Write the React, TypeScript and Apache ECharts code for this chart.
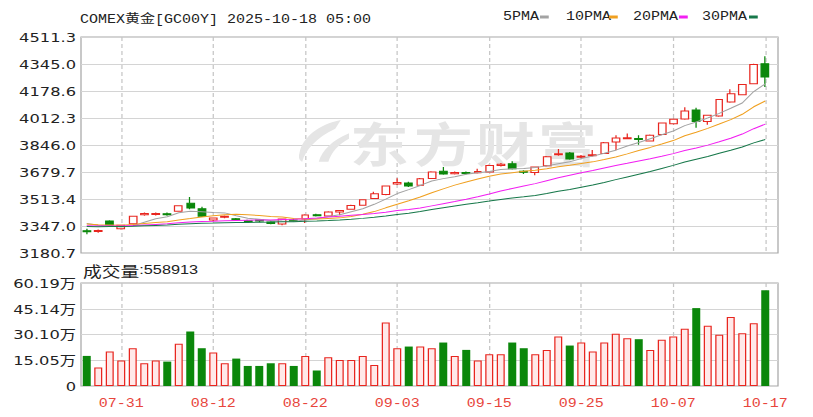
import { useEffect, useRef } from 'react';
import * as echarts from 'echarts';

// ---------- data ----------
const TITLE = 'COMEX黄金[GC00Y] 2025-10-18 05:00';
const LATEST_VOLUME = 558913;

const DATES = [
  '07-28', '07-29', '07-30', '07-31', '08-01', '08-04', '08-05', '08-06', '08-07', '08-08',
  '08-11', '08-12', '08-13', '08-14', '08-15', '08-18', '08-19', '08-20', '08-21', '08-22',
  '08-25', '08-26', '08-27', '08-28', '08-29', '09-01', '09-02', '09-03', '09-04', '09-05',
  '09-08', '09-09', '09-10', '09-11', '09-12', '09-15', '09-16', '09-17', '09-18', '09-19',
  '09-22', '09-23', '09-24', '09-25', '09-26', '09-29', '09-30', '10-01', '10-02', '10-03',
  '10-06', '10-07', '10-08', '10-09', '10-10', '10-13', '10-14', '10-15', '10-16', '10-17',
];
const LABEL_DATES = ['07-31', '08-12', '08-22', '09-03', '09-15', '09-25', '10-07', '10-17'];

const OPEN = [
  3318, 3313, 3378, 3330, 3361, 3417, 3418, 3422, 3438, 3487,
  3454, 3384, 3401, 3392, 3380, 3384, 3372, 3359, 3384, 3390,
  3416, 3409, 3434, 3450, 3475, 3516, 3541, 3606, 3612, 3598,
  3639, 3684, 3669, 3676, 3675, 3680, 3720, 3731, 3685, 3676,
  3718, 3786, 3797, 3770, 3780, 3794, 3864, 3884, 3886, 3871,
  3911, 3977, 4006, 4062, 3990, 4025, 4111, 4156, 4224, 4347,
];
const CLOSE = [
  3312, 3319, 3351, 3351, 3407, 3424, 3424, 3416, 3471, 3458,
  3407, 3396, 3407, 3386, 3375, 3378, 3362, 3390, 3378, 3415,
  3410, 3434, 3443, 3473, 3508, 3545, 3593, 3615, 3594, 3638,
  3679, 3668, 3676, 3670, 3682, 3720, 3727, 3699, 3678, 3710,
  3773, 3792, 3760, 3776, 3786, 3860, 3889, 3890, 3880, 3906,
  3981, 4004, 4056, 3990, 4029, 4126, 4162, 4218, 4342, 4265,
];
const LOW = [
  3296, 3305, 3346, 3326, 3358, 3410, 3412, 3410, 3435, 3450,
  3403, 3378, 3395, 3380, 3370, 3370, 3358, 3352, 3372, 3366,
  3405, 3405, 3414, 3447, 3472, 3513, 3537, 3600, 3588, 3595,
  3636, 3662, 3664, 3664, 3670, 3676, 3714, 3695, 3668, 3660,
  3714, 3780, 3755, 3765, 3775, 3790, 3813, 3881, 3848, 3867,
  3906, 3973, 4002, 3953, 3971, 4020, 4106, 4152, 4220, 4203,
];
const HIGH = [
  3330, 3325, 3383, 3355, 3410, 3430, 3430, 3430, 3475, 3526,
  3466, 3400, 3412, 3396, 3385, 3388, 3376, 3393, 3390, 3419,
  3422, 3438, 3445, 3478, 3512, 3558, 3597, 3641, 3620, 3642,
  3684, 3711, 3683, 3682, 3700, 3724, 3735, 3746, 3690, 3714,
  3778, 3821, 3803, 3784, 3815, 3864, 3906, 3917, 3906, 3910,
  3985, 4010, 4078, 4075, 4033, 4130, 4189, 4222, 4346, 4393,
];

const MA5 = [
  3362.4, 3351.2, 3346.4, 3341.6, 3348.0, 3370.4, 3391.4, 3404.4, 3428.4, 3438.6,
  3435.2, 3429.6, 3427.8, 3410.8, 3394.2, 3388.4, 3381.6, 3378.2, 3376.6, 3384.6,
  3391.0, 3405.4, 3416.0, 3435.0, 3453.6, 3480.6, 3512.4, 3546.8, 3571.0, 3597.0,
  3623.8, 3638.8, 3651.0, 3666.2, 3675.0, 3683.2, 3695.0, 3699.6, 3701.2, 3706.8,
  3717.4, 3730.4, 3742.6, 3762.2, 3777.4, 3794.8, 3814.2, 3840.2, 3861.0, 3885.0,
  3909.2, 3932.2, 3965.4, 3987.4, 4012.0, 4041.0, 4072.6, 4105.0, 4175.4, 4222.6,
];
const MA10 = [
  3359.7, 3355.1, 3353.7, 3352.3, 3356.5, 3362.4, 3368.3, 3373.4, 3384.0, 3393.3,
  3402.8, 3410.5, 3416.1, 3419.6, 3416.4, 3411.8, 3405.6, 3403.0, 3393.7, 3389.4,
  3389.7, 3393.5, 3397.1, 3405.8, 3419.1, 3435.8, 3458.9, 3481.4, 3503.0, 3525.3,
  3552.2, 3575.6, 3598.9, 3618.6, 3636.0, 3653.5, 3666.9, 3675.3, 3683.7, 3690.9,
  3700.3, 3712.7, 3721.1, 3731.7, 3742.1, 3756.1, 3772.3, 3791.4, 3811.6, 3831.2,
  3852.0, 3873.2, 3902.8, 3924.2, 3948.5, 3975.1, 4002.4, 4035.2, 4081.4, 4117.3,
];
const MA20 = [
  3348.1, 3346.6, 3346.6, 3346.7, 3349.5, 3353.2, 3356.9, 3360.2, 3366.3, 3371.7,
  3374.5, 3376.8, 3379.7, 3381.5, 3382.7, 3384.1, 3384.7, 3386.7, 3388.1, 3391.4,
  3396.3, 3402.0, 3406.6, 3412.7, 3417.8, 3423.8, 3432.3, 3442.2, 3448.4, 3457.4,
  3471.0, 3484.6, 3498.0, 3512.2, 3527.6, 3544.7, 3562.9, 3578.4, 3593.4, 3608.1,
  3626.3, 3644.2, 3660.0, 3675.2, 3689.1, 3704.8, 3719.6, 3733.4, 3747.7, 3761.1,
  3776.2, 3792.9, 3811.9, 3828.0, 3845.3, 3865.6, 3887.4, 3913.3, 3946.5, 3974.3,
];
const MA30 = [
  3343.9, 3343.0, 3343.2, 3343.4, 3345.5, 3348.1, 3350.8, 3353.1, 3357.3, 3361.1,
  3363.2, 3364.9, 3366.9, 3368.3, 3369.3, 3370.4, 3371.0, 3372.5, 3373.6, 3375.9,
  3378.1, 3381.0, 3384.3, 3388.6, 3394.0, 3400.7, 3408.9, 3417.9, 3426.2, 3436.0,
  3448.2, 3459.9, 3470.7, 3481.3, 3490.5, 3500.4, 3510.5, 3519.9, 3526.8, 3535.2,
  3547.4, 3560.6, 3572.4, 3585.4, 3599.1, 3615.1, 3632.7, 3649.4, 3666.1, 3682.5,
  3701.5, 3720.5, 3740.9, 3758.2, 3775.5, 3794.9, 3813.9, 3834.0, 3858.9, 3879.8,
];

const VOLUME = [
  175800, 107500, 201200, 148500, 220800, 132900, 148500, 142600, 246200, 318500,
  220800, 195400, 132900, 160200, 117200, 117200, 132900, 132900, 117200, 175800,
  89900, 168000, 152400, 152400, 175800, 123000, 371200, 220800, 230500, 230500,
  220800, 254000, 175800, 211000, 148500, 185600, 185600, 254000, 220800, 185600,
  211000, 289200, 236400, 254000, 201200, 254000, 304800, 279400, 273500, 211000,
  269600, 289200, 334100, 455200, 351700, 298900, 402500, 308700, 367300, 558913,
];
// 1 = red (up) bar, 0 = green (down) bar, as drawn in the volume panel
const VOLUME_UP = [
  0, 1, 1, 1, 1, 1, 1, 0, 1, 0,
  0, 1, 1, 0, 0, 0, 0, 1, 0, 1,
  0, 1, 1, 1, 1, 1, 1, 1, 0, 1,
  1, 0, 1, 0, 1, 1, 1, 0, 0, 1,
  1, 1, 0, 1, 1, 1, 1, 1, 0, 1,
  1, 1, 1, 0, 1, 1, 1, 1, 1, 0,
];

const PRICE_TICKS = ['3180.7', '3347.0', '3513.4', '3679.7', '3846.0', '4012.3', '4178.6', '4345.0', '4511.3'];
const PRICE_MIN = 3180.7;
const PRICE_MAX = 4511.3;
const VOLUME_TICKS = ['0', '15.05万', '30.10万', '45.14万', '60.19万'];
const VOLUME_MAX = 601900;

// ---------- styling / layout ----------
const W = 650; // drawn at 650px and stretched horizontally to 813px like the reference
const H = 417;
const S = 813 / W;
const px = (x: number) => x / S;

const RED = '#e8261f';
const GREEN = '#0b870b';
const MONO = "'Liberation Mono', 'DejaVu Sans Mono', 'Noto Sans CJK SC', monospace";

const MA_SERIES = [
  { name: '5PMA', data: MA5, color: '#a3a3a3' },
  { name: '10PMA', data: MA10, color: '#f0a020' },
  { name: '20PMA', data: MA20, color: '#f21ff2' },
  { name: '30PMA', data: MA30, color: '#17784a' },
];
const LEGEND_TEXT_X = [503, 566, 633, 702];
const LEGEND_DASH_X = [540, 609, 679, 749];

const LOGO_PATH =
  'M34 0 C18 4 6 16 4 30 C3 34 4 37 6 38 C8 28 16 16 30 8 Z M40 12 C28 18 20 28 18 38 L25 38 C27 30 32 22 40 17 Z';

let logoRegistered = false;

export default function App() {
  const ref = useRef<HTMLDivElement>(null);

  useEffect(() => {
    if (!ref.current) return;
    if (!logoRegistered) {
      echarts.graphic.registerShape('dfcfLogo', echarts.graphic.extendPath(LOGO_PATH, {}));
      logoRegistered = true;
    }
    const chart = echarts.init(ref.current, null, { renderer: 'svg', width: W, height: H });

    const step = (PRICE_MAX - PRICE_MIN) / (PRICE_TICKS.length - 1);
    const toU = (p: number) => (p - PRICE_MIN) / step;
    const volStep = VOLUME_MAX / (VOLUME_TICKS.length - 1);
    const isLabel = (idx: number) => LABEL_DATES.includes(DATES[idx]);

    const GL = px(81);
    const GW_DATA = px(690);
    const GW_BG = px(697);

    const vSplit = {
      show: true,
      interval: isLabel,
      alignWithLabel: true,
      lineStyle: { color: '#c6c6c6', type: [4, 3], width: 1 },
    };

    const graphic: any[] = [
      {
        type: 'text',
        x: px(80),
        y: 19.5,
        style: { text: TITLE, fontSize: 12, fontFamily: MONO, fill: '#222', verticalAlign: 'middle' },
      },
      {
        type: 'text',
        x: px(83),
        y: 270,
        style: {
          text: `{a|成交量}{b|:${LATEST_VOLUME}}`,
          verticalAlign: 'middle',
          rich: {
            a: { fontSize: 15, fontFamily: "'Noto Sans CJK SC'", fill: '#222' },
            b: { fontSize: 13, fontFamily: "'Liberation Sans', Arial", fill: '#222' },
          },
        },
      },
      {
        type: 'dfcfLogo',
        x: px(294),
        y: 120,
        scaleX: 1.1,
        scaleY: 1.1,
        z: 1,
        silent: true,
        style: { fill: '#e5e5e5' },
      },
    ];
    ['东', '方', '财', '富'].forEach((ch, k) => {
      graphic.push({
        type: 'text',
        x: px([350, 414, 476, 538][k]),
        y: 141,
        z: 1,
        silent: true,
        style: {
          text: ch,
          fontSize: 47,
          fontWeight: 'bold',
          fontFamily: "'Noto Sans CJK SC'",
          fill: '#e5e5e5',
          verticalAlign: 'middle',
        },
      });
    });
    MA_SERIES.forEach((m, k) => {
      graphic.push({
        type: 'text',
        x: px(LEGEND_TEXT_X[k]),
        y: 17,
        style: { text: m.name, fontSize: 12, fontFamily: MONO, fill: '#222', verticalAlign: 'middle' },
      });
      graphic.push({
        type: 'rect',
        shape: { x: px(LEGEND_DASH_X[k]), y: 15.5, width: 7, height: 3 },
        style: { fill: m.color },
      });
    });

    chart.setOption({
      animation: false,
      backgroundColor: '#ffffff',
      grid: [
        { left: GL, top: 37, width: GW_BG, height: 216, show: true, borderColor: '#a8a8a8', borderWidth: 1, backgroundColor: 'transparent' },
        { left: GL, top: 283, width: GW_BG, height: 103, show: true, borderColor: '#a8a8a8', borderWidth: 1, backgroundColor: 'transparent' },
        { left: GL, top: 37, width: GW_DATA, height: 216 },
        { left: GL, top: 283, width: GW_DATA, height: 103 },
      ],
      xAxis: [
        { gridIndex: 0, type: 'value', min: 0, max: 1, show: false },
        { gridIndex: 1, type: 'value', min: 0, max: 1, show: false },
        {
          gridIndex: 2,
          type: 'category',
          data: DATES,
          boundaryGap: true,
          axisLine: { show: false },
          axisTick: { show: false },
          axisLabel: { show: false },
          splitLine: vSplit,
        },
        {
          gridIndex: 3,
          type: 'category',
          data: DATES,
          boundaryGap: true,
          axisLine: { show: false },
          axisTick: { show: false },
          axisLabel: { show: true, interval: isLabel, color: '#e8453c', fontFamily: MONO, fontSize: 12, margin: 12 },
          splitLine: vSplit,
        },
      ],
      yAxis: [
        {
          gridIndex: 0,
          type: 'value',
          min: 0,
          max: PRICE_TICKS.length - 1,
          interval: 1,
          axisLine: { show: false },
          axisTick: { show: false },
          axisLabel: {
            formatter: (v: number) => PRICE_TICKS[Math.round(v)],
            color: '#222',
            fontFamily: "'DejaVu Sans'",
            fontSize: 13,
            margin: 4,
            padding: [0, 0, 7, 0],
          },
          splitLine: { lineStyle: { color: '#d4d4d4', width: 1 } },
        },
        {
          gridIndex: 1,
          type: 'value',
          min: 0,
          max: VOLUME_MAX,
          interval: volStep,
          axisLine: { show: false },
          axisTick: { show: false },
          axisLabel: {
            formatter: (v: number) => VOLUME_TICKS[Math.round(v / volStep)],
            color: '#222',
            fontFamily: "'DejaVu Sans', 'Noto Sans CJK SC'",
            fontSize: 13,
            margin: 4,
            padding: [0, 0, 7, 0],
          },
          splitLine: { lineStyle: { color: '#d4d4d4', width: 1 } },
        },
        { gridIndex: 2, type: 'value', min: 0, max: PRICE_TICKS.length - 1, show: false, splitLine: { show: false } },
        { gridIndex: 3, type: 'value', min: 0, max: VOLUME_MAX, show: false, splitLine: { show: false } },
      ],
      graphic,
      series: [
        {
          type: 'candlestick',
          name: 'K',
          xAxisIndex: 2,
          yAxisIndex: 2,
          barWidth: 6.4,
          data: DATES.map((_, i) => [toU(OPEN[i]), toU(CLOSE[i]), toU(LOW[i]), toU(HIGH[i])]),
          itemStyle: { color: '#ffffff', color0: GREEN, borderColor: RED, borderColor0: GREEN, borderWidth: 1 },
          z: 3,
        },
        ...MA_SERIES.map((m) => ({
          type: 'line',
          name: m.name,
          xAxisIndex: 2,
          yAxisIndex: 2,
          data: m.data.map(toU),
          symbol: 'none',
          smooth: false,
          lineStyle: { width: 1, color: m.color },
          itemStyle: { color: m.color },
          z: 4,
        })),
        {
          type: 'bar',
          name: '成交量',
          xAxisIndex: 3,
          yAxisIndex: 3,
          barWidth: 6.4,
          data: VOLUME.map((v, i) => ({
            value: v,
            itemStyle: VOLUME_UP[i]
              ? { color: '#ffe9e9', borderColor: RED, borderWidth: 1 }
              : { color: GREEN, borderColor: GREEN, borderWidth: 0 },
          })),
          z: 3,
        },
      ],
    });

    return () => chart.dispose();
  }, []);

  return (
    <div
      ref={ref}
      style={{
        position: 'fixed',
        left: 0,
        top: 0,
        width: W,
        height: H,
        transform: `scaleX(${S})`,
        transformOrigin: '0 0',
        background: '#fff',
      }}
    />
  );
}
